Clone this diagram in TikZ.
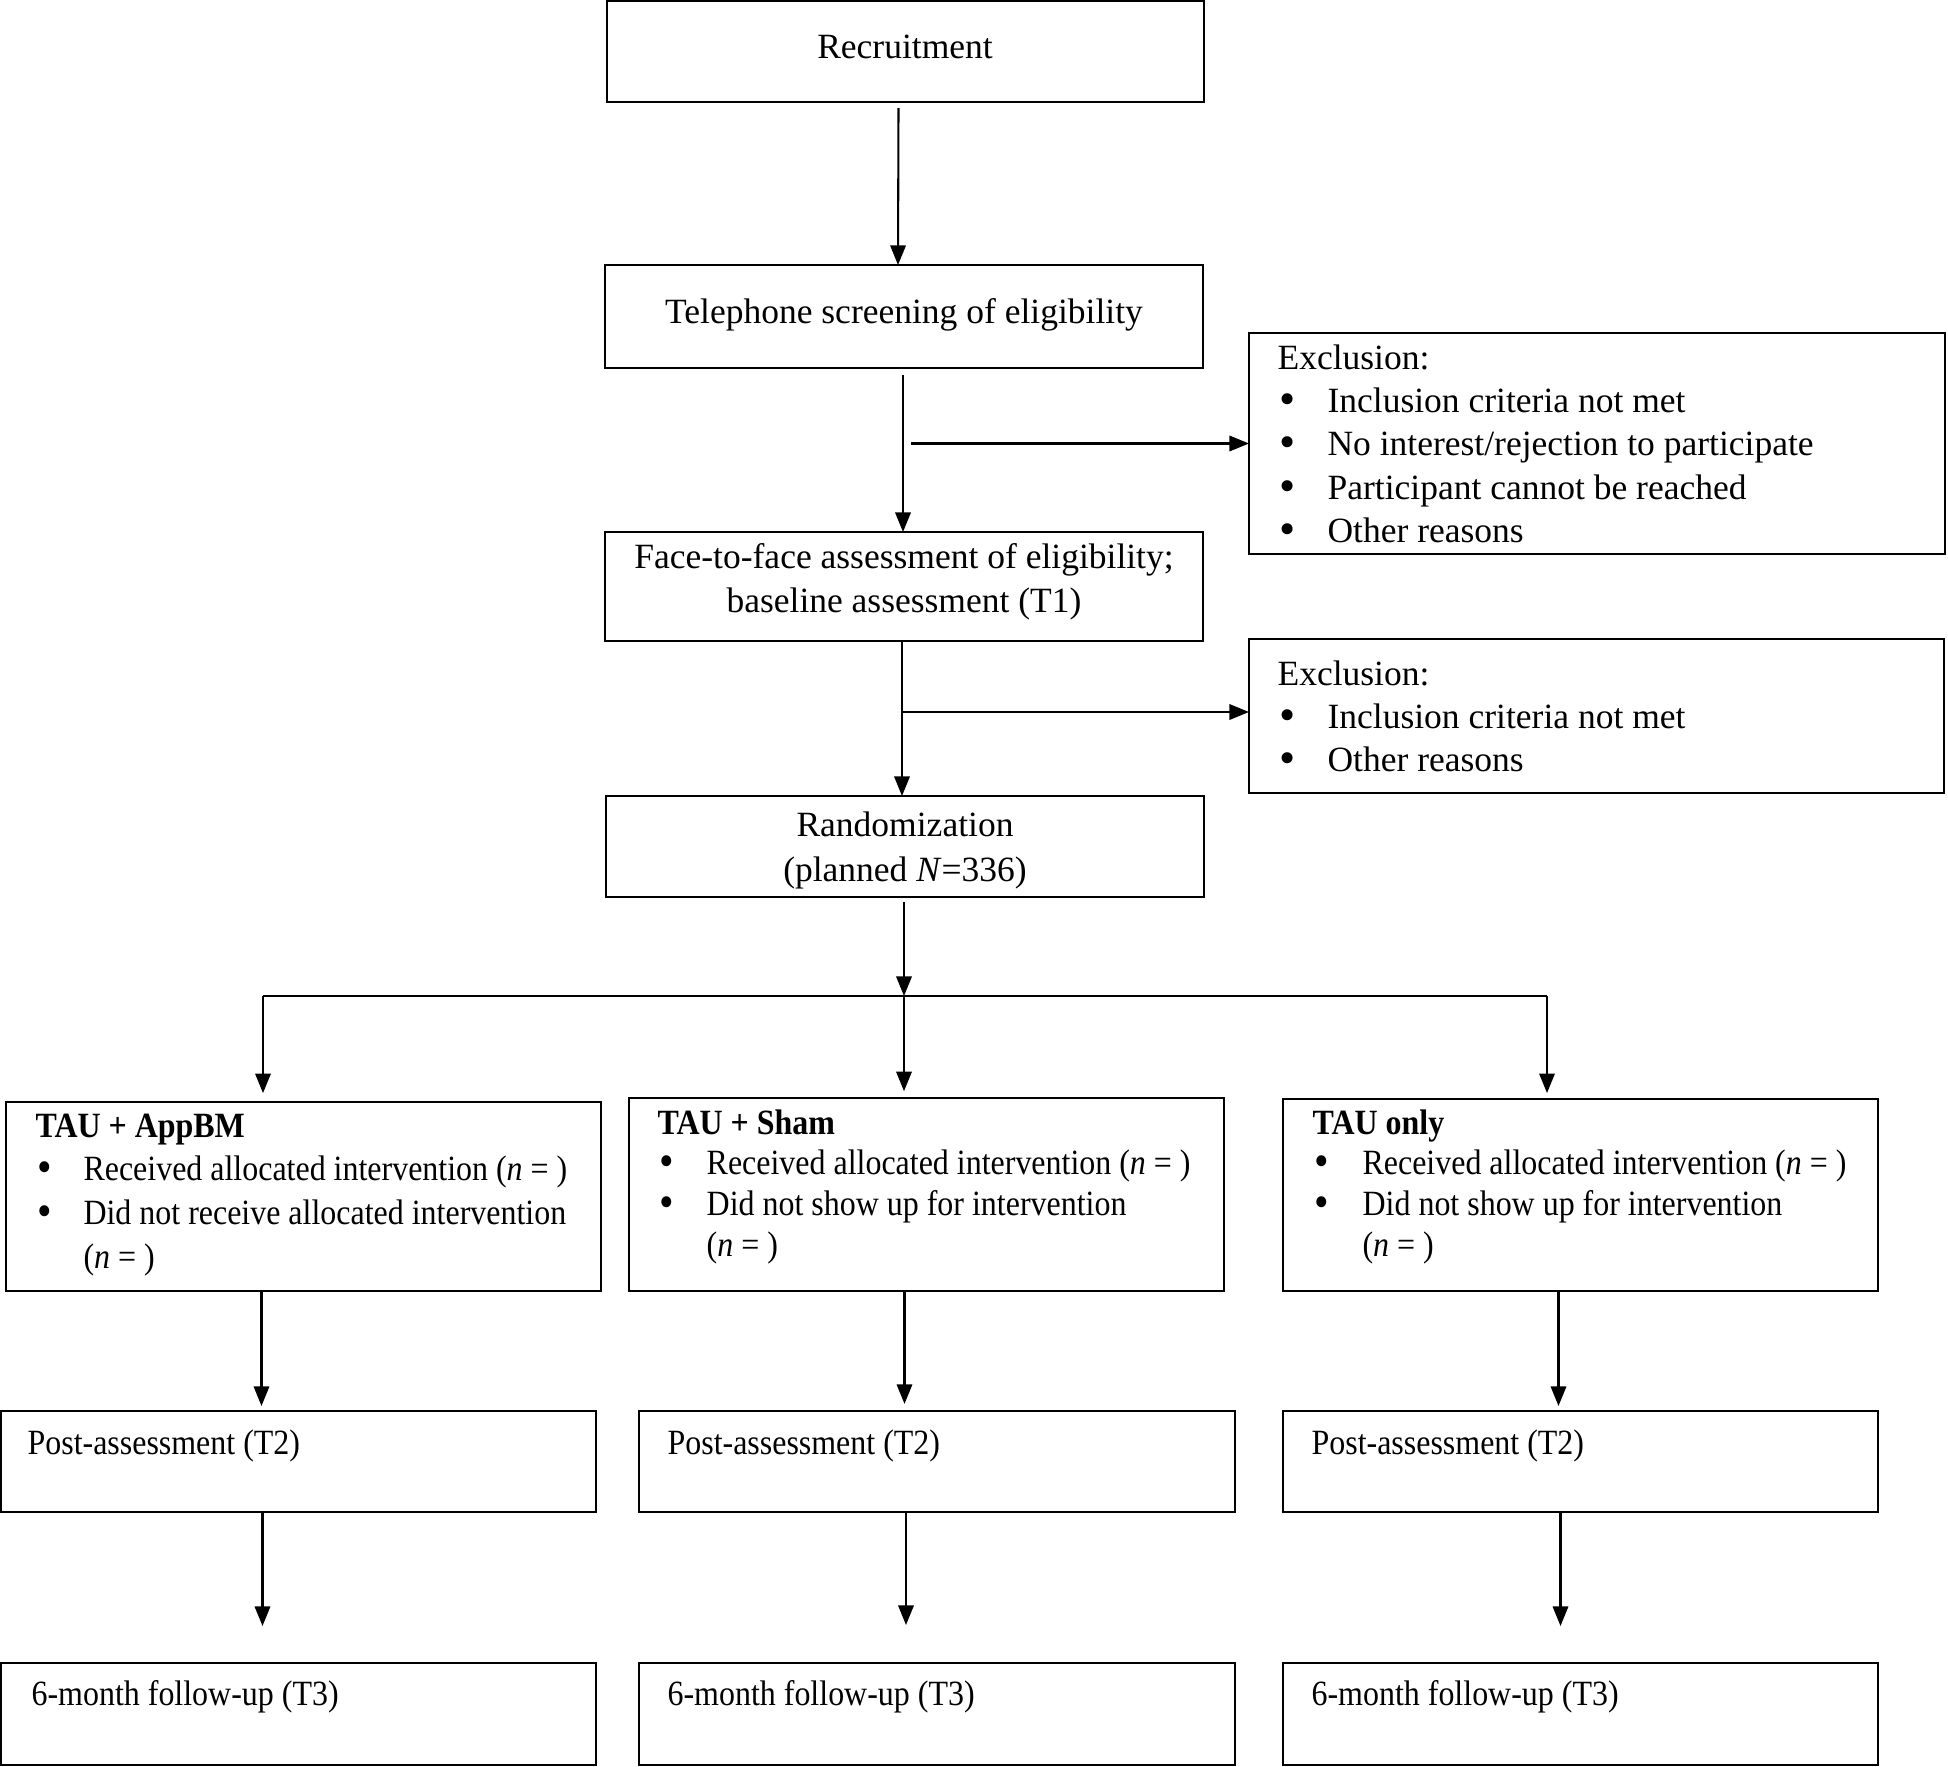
\documentclass[tikz,border=0pt]{standalone}
\usepackage{fontspec}
\setmainfont{Liberation Serif}
\newfontfamily\condfont[FakeStretch=0.9]{Liberation Serif}
\newcommand{\bul}{\hspace{0.5pt}\smash{\raisebox{-0.6pt}{\scalebox{1.3}{\textbullet}}}}
\usetikzlibrary{arrows.meta,calc,fit}
\begin{document}
\begin{tikzpicture}[x=0.338pt,y=-0.338pt,
  box/.style={draw,line width=0.85pt,inner sep=0pt,outer sep=0pt},
  arr/.style={line width=0.7pt,-{Triangle[length=6.6pt,width=5.2pt]}},
  ln/.style={line width=0.7pt},
  txt/.style={inner sep=0pt,anchor=base west,font=\fontsize{12}{14.7}\selectfont},
  ctxt/.style={inner sep=0pt,anchor=base,font=\fontsize{12}{14.7}\selectfont},
  ctx/.style={inner sep=0pt,anchor=base west,font=\condfont\fontsize{12}{14.7}\selectfont}]
\useasboundingbox (0,0) rectangle (1948,1767);

% boxes
\node[box, fit={(607,1)(1204,102)}] (rec) {};
\node[box, fit={(605,265)(1203,368)}] (tel) {};
\node[box, fit={(1249,333)(1945,554)}] (exc1) {};
\node[box, fit={(605,532)(1203,641)}] (face) {};
\node[box, fit={(1249,639)(1944,793)}] (exc2) {};
\node[box, fit={(606,796)(1204,897)}] (rand) {};
\node[box, fit={(6,1102)(601,1291)}] (ga) {};
\node[box, fit={(629,1098)(1224,1291)}] (gb) {};
\node[box, fit={(1283,1099)(1878,1291)}] (gc) {};
\node[box, fit={(1,1411)(596,1512)}] (pa) {};
\node[box, fit={(639,1411)(1235,1512)}] (pb) {};
\node[box, fit={(1283,1411)(1878,1512)}] (pc) {};
\node[box, fit={(1,1663)(596,1765)}] (fa) {};
\node[box, fit={(639,1663)(1235,1765)}] (fb) {};
\node[box, fit={(1283,1663)(1878,1765)}] (fc) {};

% texts
\node[ctxt] (rect) at (905,58) {Recruitment};
\node[ctxt] (telt) at (904,323) {Telephone screening of eligibility};
\node[ctxt,font=\fontsize{12}{15}\selectfont] (facet) at (904,568)
  {\begin{tabular}[t]{@{}c@{}}Face-to-face assessment of eligibility;\\ baseline assessment (T1)\end{tabular}};
\node[ctxt,font=\fontsize{12}{15.5}\selectfont] (randt) at (905,836)
  {\begin{tabular}[t]{@{}c@{}}Randomization\\ (planned \textit{N}=336)\end{tabular}};

\node[txt] (exc1t) at (1277,369)
  {\begin{tabular}[t]{@{}p{16.9pt}@{}l@{}}
   \multicolumn{2}{@{}l@{}}{Exclusion:}\\
   \bul & Inclusion criteria not met\\
   \bul & No interest/rejection to participate\\
   \bul & Participant cannot be reached\\
   \bul & Other reasons
   \end{tabular}};
\node[txt] (exc2t) at (1277,685)
  {\begin{tabular}[t]{@{}p{16.9pt}@{}l@{}}
   \multicolumn{2}{@{}l@{}}{Exclusion:}\\
   \bul & Inclusion criteria not met\\
   \bul & Other reasons
   \end{tabular}};

\node[ctx,font=\condfont\fontsize{12}{14.8}\selectfont] (gat) at (35,1137)
  {\begin{tabular}[t]{@{}p{16.2pt}@{}l@{}}
   \multicolumn{2}{@{}l@{}}{\textbf{TAU + AppBM}}\\
   \bul & Received allocated intervention (\textit{n} = )\\
   \bul & Did not receive allocated intervention\\
   & (\textit{n} = )
   \end{tabular}};
\node[ctx,font=\condfont\fontsize{12}{13.8}\selectfont] (gbt) at (657,1134)
  {\begin{tabular}[t]{@{}p{16.6pt}@{}l@{}}
   \multicolumn{2}{@{}l@{}}{\textbf{TAU + Sham}}\\
   \bul & Received allocated intervention (\textit{n} = )\\
   \bul & Did not show up for intervention\\
   & (\textit{n} = )
   \end{tabular}};
\node[ctx,font=\condfont\fontsize{12}{13.8}\selectfont] (gct) at (1312,1134)
  {\begin{tabular}[t]{@{}p{16.9pt}@{}l@{}}
   \multicolumn{2}{@{}l@{}}{\textbf{TAU only}}\\
   \bul & Received allocated intervention (\textit{n} = )\\
   \bul & Did not show up for intervention\\
   & (\textit{n} = )
   \end{tabular}};

\node[ctx] (pat) at (27,1454) {Post-assessment (T2)};
\node[ctx] (pbt) at (667,1454) {Post-assessment (T2)};
\node[ctx] (pct) at (1311,1454) {Post-assessment (T2)};
\node[ctx] (fat) at (31,1705) {6-month follow-up (T3)};
\node[ctx] (fbt) at (667,1705) {6-month follow-up (T3)};
\node[ctx] (fct) at (1311,1705) {6-month follow-up (T3)};

% connectors
\draw[arr] ($(rec.south)+(-7,6)$) -- ($(tel.north)+(-6,0)$);
\draw[arr] ($(tel.south)+(-1,7)$) -- ($(face.north)+(-1,0)$);
\draw[arr] ($(exc1.west -| tel.south)+(7,0)$) -- (exc1.west);
\draw[arr] ($(face.south)+(-2,0)$) -- ($(rand.north)+(-3,0)$);
\draw[arr] ($(exc2.west -| face.south)+(-2,-4)$) -- ($(exc2.west)+(0,-4)$);

\coordinate (hm) at ($(rand.south)+(-1,99)$);
\coordinate (hl) at (263,996);
\coordinate (hr) at (1547,996);
\draw[arr] ($(rand.south)+(-1,5)$) -- (hm);
\draw[ln] (hl) -- (hr);
\draw[arr,shorten >=3pt] (hl) -- (hl |- ga.north);
\draw[arr,shorten >=2.3pt] (hm) -- (hm |- gb.north);
\draw[arr,shorten >=2pt] (hr) -- (hr |- gc.north);

\coordinate (ua) at ($(ga.south)+(-42,0)$);
\coordinate (ub) at ($(gb.south)+(-22,0)$);
\coordinate (uc) at ($(gc.south)+(-22,0)$);
\draw[arr,shorten >=1.7pt] (ua) -- (ua |- pa.north);
\draw[arr,shorten >=2.4pt] (ub) -- (ub |- pb.north);
\draw[arr,shorten >=1.7pt] (uc) -- (uc |- pc.north);

\coordinate (va) at ($(pa.south)+(-36,0)$);
\coordinate (vb) at ($(pb.south)+(-31,0)$);
\coordinate (vc) at ($(pc.south)+(-20,0)$);
\draw[arr] (va) -- ++(0,114);
\draw[arr] (vb) -- ++(0,113);
\draw[arr] (vc) -- ++(0,114);
\end{tikzpicture}
\end{document}
